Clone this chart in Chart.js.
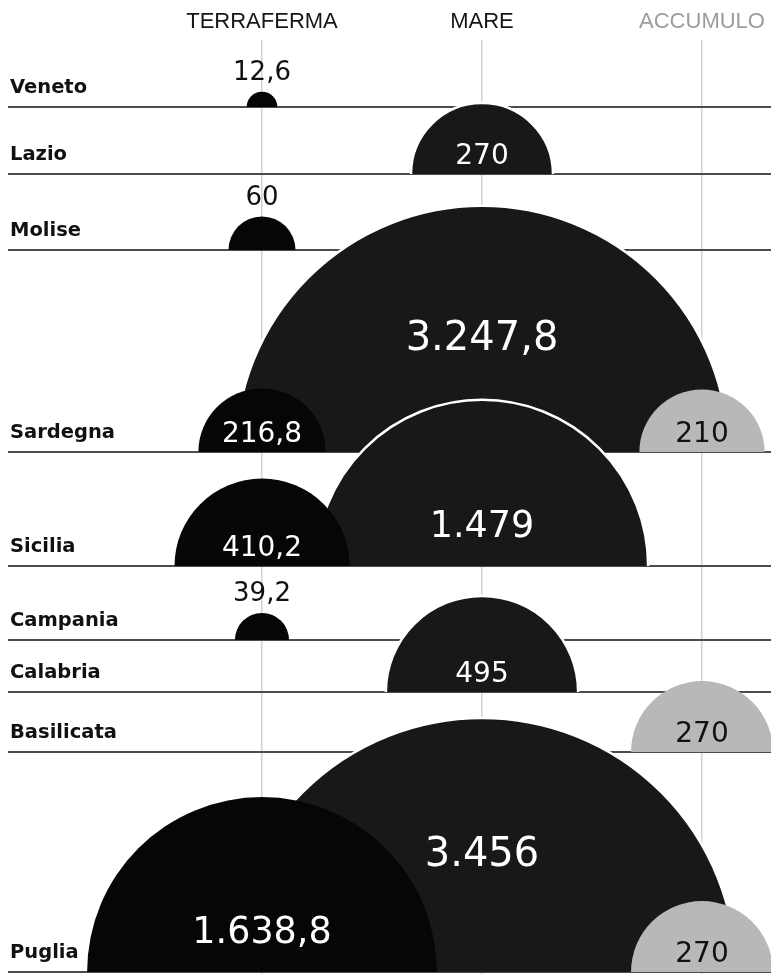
<!DOCTYPE html>
<html>
<head>
  <meta charset="UTF-8">
  <title>Terraferma, mare, accumulo</title>
  <script src="https://cdn.jsdelivr.net/npm/chart.js"></script>
  <style>
    html, body { margin: 0; padding: 0; background: #fff; }
    #wrap { position: relative; width: 771px; height: 974px; }
  </style>
</head>
<body>
  <div id="wrap"><canvas id="chart"></canvas></div>
  <script>
    const regions = ["Veneto", "Lazio", "Molise", "Sardegna", "Sicilia", "Campania", "Calabria", "Basilicata", "Puglia"];
    const columns = ["TERRAFERMA", "MARE", "ACCUMULO"];
    const terraferma = [12.6, null, 60, 216.8, 410.2, 39.2, null, null, 1638.8];
    const mare = [null, 270, null, 3247.8, 1479, null, 495, null, 3456];
    const accumulo = [null, null, null, 210, null, null, null, 270, 270];

    // layout only: baseline of every row (px from top of page)
    const rowBase = [107, 174, 250, 452, 566, 640, 692, 752, 972];
    const RADIUS_K = 4.32; // semicircle area proportional to value

    function fmt(v) {
      const parts = v.toFixed(v % 1 ? 1 : 0).split(".");
      const int = parts[0].replace(/\B(?=(\d{3})+(?!\d))/g, ".");
      return parts[1] ? int + "," + parts[1] : int;
    }

    function points(values, col) {
      const out = [];
      values.forEach((v, i) => {
        if (v == null) return;
        out.push({ x: col, y: rowBase[i], r: RADIUS_K * Math.sqrt(v), value: v });
      });
      return out;
    }

    // draw each bubble only above its own baseline -> half discs
    const halfDisc = {
      id: "halfDisc",
      beforeDatasetDraw(chart, args) {
        const ctx = chart.ctx;
        args.meta.data.forEach((el) => {
          ctx.save();
          ctx.beginPath();
          ctx.rect(0, 0, chart.width, el.y);
          ctx.clip();
          el.draw(ctx, chart.chartArea);
          ctx.restore();
        });
        return false;
      },
    };

    const valueLabels = {
      id: "valueLabels",
      afterDatasetsDraw(chart) {
        const ctx = chart.ctx;
        chart.data.datasets.forEach((ds, di) => {
          const meta = chart.getDatasetMeta(di);
          meta.data.forEach((el, j) => {
            const raw = ds.data[j];
            const r = el.options.radius;
            let size, cy, color;
            if (r < 40) {
              size = 26; cy = el.y - r - 21; color = "#111";
            } else if (r < 120) {
              size = 28; cy = el.y - 20; color = ds.textColor;
            } else if (r < 200) {
              size = 36.5; cy = el.y - 42; color = ds.textColor;
            } else {
              size = 40; cy = el.y - r * 0.475; color = ds.textColor;
            }
            ctx.save();
            ctx.font = size + "px 'DejaVu Sans'";
            ctx.fillStyle = color;
            ctx.textAlign = "center";
            ctx.textBaseline = "alphabetic";
            ctx.fillText(fmt(raw.value), el.x, cy + size * 0.365);
            ctx.restore();
          });
        });
      },
    };

    const chart = new Chart(document.getElementById("chart"), {
      type: "bubble",
      data: {
        datasets: [
          {
            label: "TERRAFERMA",
            data: points(terraferma, 0),
            backgroundColor: "#060606",
            borderWidth: 0,
            textColor: "#fff",
            order: 1,
          },
          {
            label: "MARE",
            data: points(mare, 1),
            backgroundColor: "#181818",
            borderColor: "#fff",
            borderWidth: 2.5,
            textColor: "#fff",
            order: 2,
          },
          {
            label: "ACCUMULO",
            data: points(accumulo, 2),
            backgroundColor: "#b8b8b8",
            borderWidth: 0,
            textColor: "#111",
            order: 0,
          },
        ],
      },
      options: {
        responsive: true,
        maintainAspectRatio: false,
        animation: false,
        events: [],
        layout: { autoPadding: false, padding: { left: 8, right: 0, top: 0, bottom: 0 } },
        plugins: {
          legend: { display: false },
          tooltip: { enabled: false },
        },
        scales: {
          x: {
            type: "linear",
            position: "top",
            min: -1.1545,
            max: 2.3136,
            afterFit: (s) => {
              s.height = 40;
              s.paddingLeft = s.paddingRight = 0;
            },
            afterBuildTicks: (s) => { s.ticks = columns.map((c, i) => ({ value: i })); },
            ticks: {
              callback: (v) => columns[v],
              color: (c) => (c.index === 2 ? "#9c9c9c" : "#161616"),
              font: { family: "'Liberation Sans'", size: 22 },
              padding: 5,
              maxRotation: 0,
              autoSkip: false,
            },
            grid: { color: "#d2d2d2", lineWidth: 1.5, drawTicks: false },
            border: { display: false },
          },
          y: {
            type: "linear",
            reverse: true,
            min: 40,
            max: 974,
            z: 1,
            afterFit: (s) => {
              s.width = 0;
              s.paddingTop = s.paddingBottom = 0;
            },
            afterBuildTicks: (s) => { s.ticks = rowBase.map((v) => ({ value: v })); },
            ticks: {
              mirror: true,
              padding: 2,
              labelOffset: -19,
              callback: (v, i) => regions[i],
              color: "#111",
              font: { family: "'DejaVu Sans'", weight: "bold", size: 19.5 },
              autoSkip: false,
            },
            grid: { color: "#4c4c4c", lineWidth: 2, drawTicks: false },
            border: { display: false },
          },
        },
      },
      plugins: [halfDisc, valueLabels],
    });
  </script>
</body>
</html>
